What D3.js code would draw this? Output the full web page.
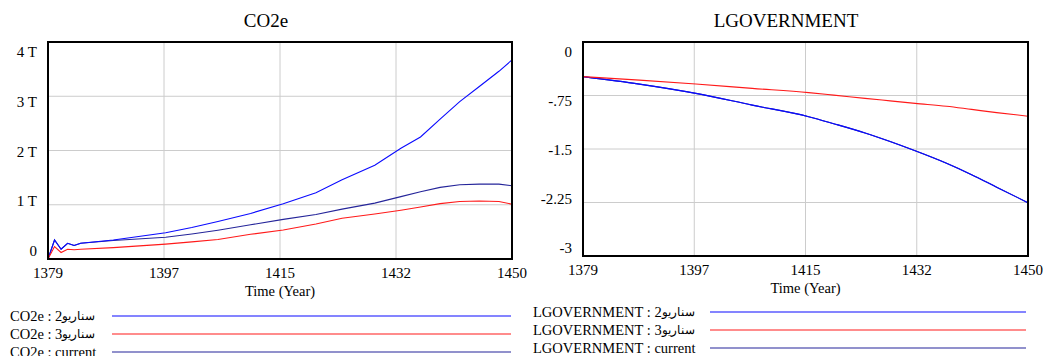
<!DOCTYPE html>
<html>
<head>
<meta charset="utf-8">
<script src="https://cdn.jsdelivr.net/npm/d3@7"></script>
<style>
  body { margin: 0; background: #fff; }
  svg { display: block; font-family: "Liberation Serif", "Times New Roman", serif; }
</style>
</head>
<body>
<svg id="chart" width="1043" height="356"></svg>
<script>
// time ticks (5 evenly spaced, labels rounded)
var xTickValues = [1379, 1396.75, 1414.5, 1432.25, 1450];
var xTickLabels = ["1379", "1397", "1415", "1432", "1450"];

// CO2e (T)
var co2Years    = [1379, 1380, 1381, 1382, 1383, 1384, 1389, 1397, 1401, 1405, 1410, 1415, 1420, 1424, 1429, 1433, 1436, 1439, 1442, 1445, 1448, 1450];
var co2Scen2    = [0, 0.35, 0.18, 0.29, 0.25, 0.29, 0.35, 0.485, 0.58, 0.69, 0.84, 1.02, 1.22, 1.46, 1.73, 2.04, 2.25, 2.58, 2.90, 3.18, 3.46, 3.67];
var co2Scen3    = [0, 0.23, 0.12, 0.18, 0.17, 0.18, 0.21, 0.275, 0.315, 0.36, 0.455, 0.535, 0.645, 0.75, 0.83, 0.90, 0.96, 1.02, 1.06, 1.07, 1.06, 1.01];
var co2Current  = [0, 0.35, 0.18, 0.29, 0.25, 0.29, 0.34, 0.40, 0.46, 0.53, 0.63, 0.73, 0.82, 0.92, 1.03, 1.15, 1.24, 1.32, 1.37, 1.38, 1.38, 1.35];
var co2TickValues = [0, 1, 2, 3, 4];
var co2TickLabels = ["0", "1 T", "2 T", "3 T", "4 T"];

// LGOVERNMENT
var lgYears     = [1379, 1388, 1397, 1406, 1415, 1419, 1424, 1428, 1432, 1437, 1441, 1445, 1450];
var lgScen2     = [-0.486, -0.59, -0.72, -0.885, -1.047, -1.145, -1.275, -1.395, -1.525, -1.70, -1.86, -2.035, -2.253];
var lgScen3     = [-0.486, -0.535, -0.589, -0.65, -0.71, -0.745, -0.79, -0.825, -0.86, -0.90, -0.945, -0.99, -1.04];
var lgCurrent   = [-0.486, -0.59, -0.72, -0.885, -1.047, -1.145, -1.275, -1.395, -1.525, -1.70, -1.86, -2.035, -2.253];
var lgTickValues = [-3, -2.25, -1.5, -0.75, 0];
var lgTickLabels = ["-3", "-2.25", "-1.5", "-.75", "0"];

// legend names: [arabic word, suffix]
var seriesNames  = [["سناریو", "2"], ["سناریو", "3"], ["", "current"]];
var seriesColors = ["#0a0aff", "#ff1a1a", "#25259a"];

var svg = d3.select("#chart");

function panel(opt) {
  var g = svg.append("g");
  var x = d3.scaleLinear().domain([1379, 1450]).range([opt.left, opt.right]);
  var y = d3.scaleLinear().domain(opt.yDomain).range([opt.bottom, opt.top]);
  // labels sit a little inside the plot's top and bottom edges
  var yLab = d3.scaleLinear().domain(opt.yDomain).range([opt.bottom - 8, opt.top + 10]);

  g.append("text")
    .attr("x", opt.titleX).attr("y", 20)
    .attr("text-anchor", "middle").attr("dominant-baseline", "central")
    .attr("font-size", 19).text(opt.title);

  // grid
  g.selectAll("line.vg").data(xTickValues.slice(1, -1)).enter().append("line")
    .attr("x1", d => x(d)).attr("x2", d => x(d))
    .attr("y1", opt.top).attr("y2", opt.bottom)
    .attr("stroke", "#cccccc").attr("stroke-width", 1);
  g.selectAll("line.hg").data(opt.yTicks.slice(1, -1)).enter().append("line")
    .attr("x1", opt.left).attr("x2", opt.right)
    .attr("y1", d => y(d)).attr("y2", d => y(d))
    .attr("stroke", "#cccccc").attr("stroke-width", 1);

  g.selectAll("text.yl").data(opt.yTicks).enter().append("text")
    .attr("x", opt.left - 11).attr("y", d => yLab(d))
    .attr("text-anchor", "end").attr("dominant-baseline", "central")
    .attr("font-size", 15).text((d, i) => opt.yLabels[i]);

  g.selectAll("text.xl").data(xTickValues).enter().append("text")
    .attr("x", d => x(d)).attr("y", opt.bottom + 14)
    .attr("text-anchor", "middle").attr("dominant-baseline", "central")
    .attr("font-size", 15).text((d, i) => xTickLabels[i]);

  g.append("text")
    .attr("x", (opt.left + opt.right) / 2).attr("y", opt.bottom + 32)
    .attr("text-anchor", "middle").attr("dominant-baseline", "central")
    .attr("font-size", 14.5).text("Time (Year)");

  // current drawn first, scenario 2 over it
  var order = [2, 0, 1];
  var line = d3.line().x(d => x(d[0])).y(d => y(d[1])).curve(opt.curve);
  order.forEach(function(k) {
    var pts = opt.years.map((yr, i) => [yr, opt.series[k][i]]);
    g.append("path").attr("d", line(pts))
      .attr("fill", "none").attr("stroke", seriesColors[k]).attr("stroke-width", 1.1);
  });

  g.append("rect")
    .attr("x", opt.left).attr("y", opt.top)
    .attr("width", opt.right - opt.left).attr("height", opt.bottom - opt.top)
    .attr("fill", "none").attr("stroke", "#000").attr("stroke-width", 2);

  // legend
  seriesNames.forEach(function(nm, i) {
    var ly = opt.legY[i];
    var t = g.append("text")
      .attr("x", opt.legX).attr("y", ly)
      .attr("dominant-baseline", "central").attr("font-size", 14.5);
    t.append("tspan").text(opt.title + " : ");
    if (nm[0]) t.append("tspan").attr("font-size", 11.5).text(nm[0]);
    t.append("tspan").text(nm[1]);
    g.append("line")
      .attr("x1", opt.legLine[0]).attr("x2", opt.legLine[1])
      .attr("y1", ly).attr("y2", ly)
      .attr("stroke", seriesColors[i]).attr("stroke-width", 1.2);
  });
}

panel({
  title: "CO2e", titleX: 266,
  left: 48, right: 512, top: 42, bottom: 259,
  yDomain: [0, 4], yTicks: co2TickValues, yLabels: co2TickLabels,
  years: co2Years, series: [co2Scen2, co2Scen3, co2Current], curve: d3.curveLinear,
  legX: 10, legY: [316, 334, 352], legLine: [112, 511]
});

panel({
  title: "LGOVERNMENT", titleX: 786,
  left: 583, right: 1028, top: 42, bottom: 256,
  yDomain: [-3, 0], yTicks: lgTickValues, yLabels: lgTickLabels,
  years: lgYears, series: [lgScen2, lgScen3, lgCurrent], curve: d3.curveMonotoneX,
  legX: 533, legY: [312, 330, 348], legLine: [710, 1026]
});
</script>
</body>
</html>
